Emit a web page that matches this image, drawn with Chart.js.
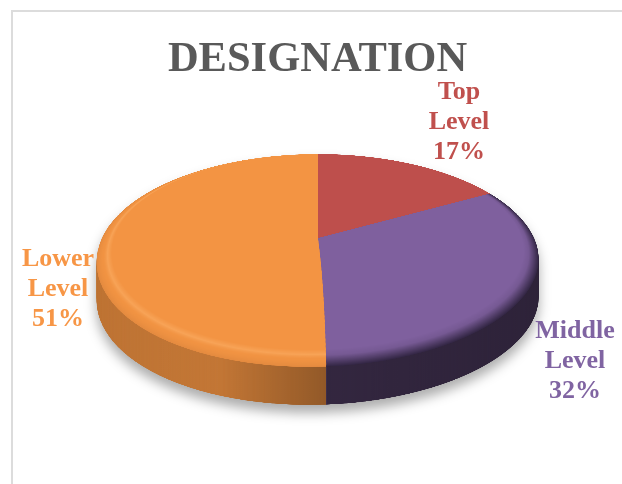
<!DOCTYPE html>
<html>
<head>
<meta charset="utf-8">
<title>Designation</title>
<script src="https://cdn.jsdelivr.net/npm/chart.js@4"></script>
<style>
  html, body { margin: 0; padding: 0; background: #fff; overflow: hidden; }
  #frame { position: absolute; left: 11px; top: 10px; width: 900px; height: 900px; border: 2px solid #dcdcdc; box-sizing: border-box; }
  #pie { position: absolute; left: 0; top: 0; }
</style>
</head>
<body>
<div id="frame"></div>
<canvas id="pie" width="622" height="484"></canvas>
<script>
const categories = ['Top Level', 'Middle Level', 'Lower Level'];
const shares = [17, 32, 51];
const sliceColors = ['#be4f4c', '#7f609e', '#f39443'];
const labelColors = ['#c0504d', '#8064a2', '#f79646'];

// where the tilted disc lands on the canvas
const view = { x: 318, y: 238, a: 216, b: 101.7, k: 0.211, lean: 9, depth: 38 };
const flatScale = 3;
const W = 622, H = 484;

function layer(w, h) {
  const c = document.createElement('canvas');
  c.width = w;
  c.height = h;
  return c;
}

// paints a flat top-down disc row by row with perspective
function warp(ctx, flat, arc, dy) {
  const R = arc.outerRadius * flatScale;
  const cx = arc.x * flatScale, cy = arc.y * flatScale;
  const top = Math.floor(view.y - view.b / (1 + view.k));
  const bottom = Math.ceil(view.y + view.b / (1 - view.k));
  const vAt = d => d / (view.b + view.k * d);
  for (let y = top; y <= bottom; y++) {
    const v0 = vAt(y - view.y), v1 = vAt(y + 1 - view.y);
    const vm = (v0 + v1) / 2;
    if (vm < -1 || vm > 1) continue;
    const scale = view.a / (1 - view.k * vm) / R;
    const shift = vm > 0 ? view.lean * vm * vm : 0;
    ctx.drawImage(flat, 0, cy + v0 * R, flat.width, (v1 - v0) * R,
      view.x - shift - cx * scale, y + dy, flat.width * scale, 1);
  }
}

function seamX(angle) {
  const u = Math.cos(angle), v = Math.sin(angle);
  return view.x + view.a * u / (1 - view.k * v) - (v > 0 ? view.lean * v * v : 0);
}

function wedge(ctx, arc, R, cx, cy) {
  ctx.beginPath();
  ctx.moveTo(cx, cy);
  ctx.arc(cx, cy, R * 1.01, arc.startAngle, arc.endAngle);
  ctx.closePath();
}

const bevel = [
  [[0, 'rgba(255,185,115,0)'], [0.3, 'rgba(255,185,115,0.42)'], [0.55, 'rgba(235,145,65,0.2)'], [1, 'rgba(215,130,60,0.55)']],
  [[0, 'rgba(40,30,55,0)'], [0.35, 'rgba(40,30,55,0.1)'], [1, 'rgba(40,30,55,0.88)']],
];

const tiltedPie = {
  id: 'tiltedPie',
  beforeDatasetsDraw(chart) {
    const arcs = chart.getDatasetMeta(0).data;
    const ctx = chart.ctx;
    const first = arcs[0];
    const size = (first.x + first.outerRadius + 4) * flatScale;
    const h = (first.y + first.outerRadius + 4) * flatScale;

    const plain = layer(size, h);
    const p = plain.getContext('2d');
    p.scale(flatScale, flatScale);
    arcs.forEach(a => a.draw(p));
    arcs.forEach(a => a.draw(p));

    // rim shading on the top face, wider towards the viewer
    const face = layer(size, h);
    const f = face.getContext('2d');
    f.drawImage(plain, 0, 0);
    const R = first.outerRadius * flatScale, cx = first.x * flatScale, cy = first.y * flatScale;
    [[arcs[2], bevel[0]], [arcs[1], bevel[1]]].forEach(([arc, stops]) => {
      const g = f.createRadialGradient(cx, cy - 0.055 * R, 0.945 * R, cx, cy, R);
      stops.forEach(s => g.addColorStop(s[0], s[1]));
      f.save();
      f.globalCompositeOperation = 'source-atop';
      wedge(f, arc, R, cx, cy);
      f.clip();
      f.fillStyle = g;
      f.fillRect(0, 0, size, h);
      f.restore();
    });

    // side wall
    const wall = layer(W, H);
    const w = wall.getContext('2d');
    for (let d = view.depth; d >= 1; d--) warp(w, plain, first, d);
    const seam = seamX(arcs[2].startAngle);
    const left = view.x - view.a * 1.04, right = view.x + view.a * 1.04;
    const t = x => (x - left) / (right - left);
    const shade = w.createLinearGradient(left, 0, right, 0);
    shade.addColorStop(0, 'rgba(0,0,0,0.22)');
    shade.addColorStop(t(220), 'rgba(0,0,0,0.2)');
    shade.addColorStop(t(seam), 'rgba(0,0,0,0.4)');
    shade.addColorStop(t(seam) + 0.001, 'rgba(0,0,0,0.6)');
    shade.addColorStop(1, 'rgba(0,0,0,0.64)');
    w.globalCompositeOperation = 'source-atop';
    w.fillStyle = shade;
    w.fillRect(0, 0, W, H);
    w.globalCompositeOperation = 'source-over';
    warp(w, face, first, 0);

    ctx.save();
    ctx.shadowColor = 'rgba(0,0,0,0.32)';
    ctx.shadowBlur = 12;
    ctx.shadowOffsetY = 8;
    ctx.drawImage(wall, 0, 0);
    ctx.restore();
    return false;
  },
  afterDraw(chart) {
    const ctx = chart.ctx;
    const anchors = [[459, 92], [575, 331], [58, 259]];
    ctx.save();
    ctx.font = 'bold 26px "Liberation Serif"';
    ctx.textAlign = 'center';
    ctx.textBaseline = 'middle';
    categories.forEach((name, i) => {
      const lines = [...name.split(' '), shares[i] + '%'];
      ctx.fillStyle = labelColors[i];
      lines.forEach((line, n) => ctx.fillText(line, anchors[i][0], anchors[i][1] + n * 30.3));
    });
    ctx.restore();
  },
};

new Chart(document.getElementById('pie'), {
  type: 'pie',
  data: {
    labels: categories,
    datasets: [{ data: shares, backgroundColor: sliceColors, borderWidth: 0 }],
  },
  plugins: [tiltedPie],
  options: {
    responsive: false,
    animation: false,
    events: [],
    layout: { padding: { left: 13, top: 0, right: 0, bottom: 0 } },
    plugins: {
      legend: { display: false },
      tooltip: { enabled: false },
      title: {
        display: true,
        text: 'DESIGNATION',
        color: '#595959',
        font: { family: '"Liberation Serif"', size: 42.5, weight: 'bold' },
        padding: { top: 35, bottom: 10 },
      },
    },
  },
});
</script>
</body>
</html>
